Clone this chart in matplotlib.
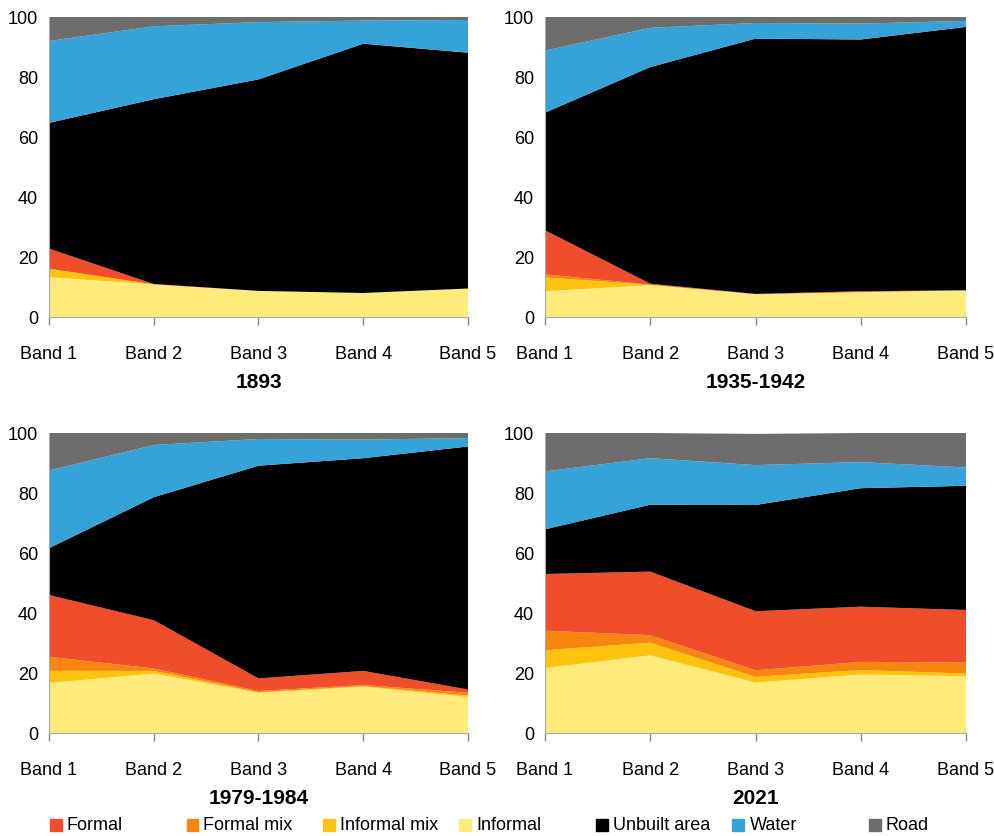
import matplotlib.pyplot as plt
from matplotlib.patches import Rectangle

plt.rcParams["font.family"] = ["Liberation Sans", "DejaVu Sans"]

bands = ["Band 1", "Band 2", "Band 3", "Band 4", "Band 5"]
periods = ["1893", "1935-1942", "1979-1984", "2021"]

# share of each class (%) per band; one row per period
informal = [[13.3, 10.8, 8.7, 8.0, 9.5],
            [8.6, 10.6, 7.6, 8.3, 8.9],
            [16.7, 19.8, 13.4, 15.4, 12.0],
            [21.7, 25.9, 16.8, 19.5, 18.9]]
informal_mix = [[2.8, 0.1, 0.0, 0.0, 0.0],
                [4.6, 0.1, 0.0, 0.0, 0.0],
                [4.0, 0.9, 0.2, 0.2, 0.5],
                [5.9, 4.2, 1.9, 1.5, 0.9]]
formal_mix = [[0.0, 0.0, 0.0, 0.0, 0.0],
              [1.0, 0.1, 0.0, 0.0, 0.0],
              [4.7, 0.8, 0.4, 0.4, 0.9],
              [6.5, 2.5, 2.2, 2.7, 3.7]]
formal = [[6.7, 0.1, 0.0, 0.0, 0.0],
          [14.7, 0.3, 0.1, 0.3, 0.0],
          [20.6, 16.1, 4.2, 4.7, 1.1],
          [18.9, 21.2, 19.7, 18.4, 17.5]]
unbuilt = [[41.9, 61.6, 70.5, 83.1, 78.6],
           [39.2, 72.2, 85.1, 83.9, 87.8],
           [15.6, 41.0, 70.9, 70.9, 81.0],
           [14.9, 22.3, 35.4, 39.5, 41.4]]
water = [[27.3, 24.3, 19.1, 7.7, 10.9],
         [20.7, 13.1, 5.2, 5.3, 2.0],
         [25.9, 17.4, 8.9, 6.2, 2.8],
         [19.3, 15.5, 13.3, 8.7, 6.1]]
road = [[8.0, 3.1, 1.7, 1.2, 1.0],
        [11.2, 3.6, 2.0, 2.2, 1.3],
        [12.5, 4.0, 2.0, 2.2, 1.7],
        [12.8, 8.4, 10.4, 9.7, 11.5]]

# stacking order: bottom -> top
layers = [informal, informal_mix, formal_mix, formal, unbuilt, water, road]
layer_colors = ["#FEEB7B", "#FFC20E", "#F7860F", "#F04E2B", "#000000", "#35A2D8", "#6D6D6D"]

legend_names = ["Formal", "Formal mix", "Informal mix", "Informal", "Unbuilt area", "Water", "Road"]
legend_colors = ["#F04E2B", "#F7860F", "#FFC20E", "#FEEB7B", "#000000", "#35A2D8", "#6D6D6D"]

W, H = 995, 836
fig = plt.figure(figsize=(W / 100, H / 100), dpi=100)

# axes boxes in pixels: left, top, right, bottom
boxes = [(49, 17, 468, 317), (545, 17, 966, 317),
         (49, 433, 468, 733), (545, 433, 966, 733)]

x = list(range(len(bands)))
for p, (l, t, r, b) in enumerate(boxes):
    ax = fig.add_axes([l / W, (H - b) / H, (r - l) / W, (b - t) / H])
    ax.stackplot(x, *[lay[p] for lay in layers], colors=layer_colors, linewidth=0)
    ax.set_xlim(0, 4)
    ax.set_ylim(0, 100)
    ax.set_xticks(x)
    ax.set_xticklabels(bands)
    ax.set_yticks([0, 20, 40, 60, 80, 100])
    ax.tick_params(axis="x", length=6, width=1, color="#888888", pad=15, labelsize=13)
    ax.tick_params(axis="y", length=0, pad=8, labelsize=13)
    for s in ["top", "right"]:
        ax.spines[s].set_visible(False)
    for s in ["left", "bottom"]:
        ax.spines[s].set_color("#aaaaaa")
        ax.spines[s].set_linewidth(0.8)
    ax.text(0.5, -0.217, periods[p], transform=ax.transAxes, ha="center", va="center",
            fontsize=15, fontweight="bold")

# legend row along the bottom
for i, (name, c) in enumerate(zip(legend_names, legend_colors)):
    px = 50 + i * 136.5
    fig.patches.append(Rectangle((px / W, (H - 831) / H), 12 / W, 12 / H,
                                 transform=fig.transFigure, color=c))
    fig.text((px + 17) / W, (H - 825) / H, name, ha="left", va="center", fontsize=13)

fig.savefig("out.png", dpi=100)
